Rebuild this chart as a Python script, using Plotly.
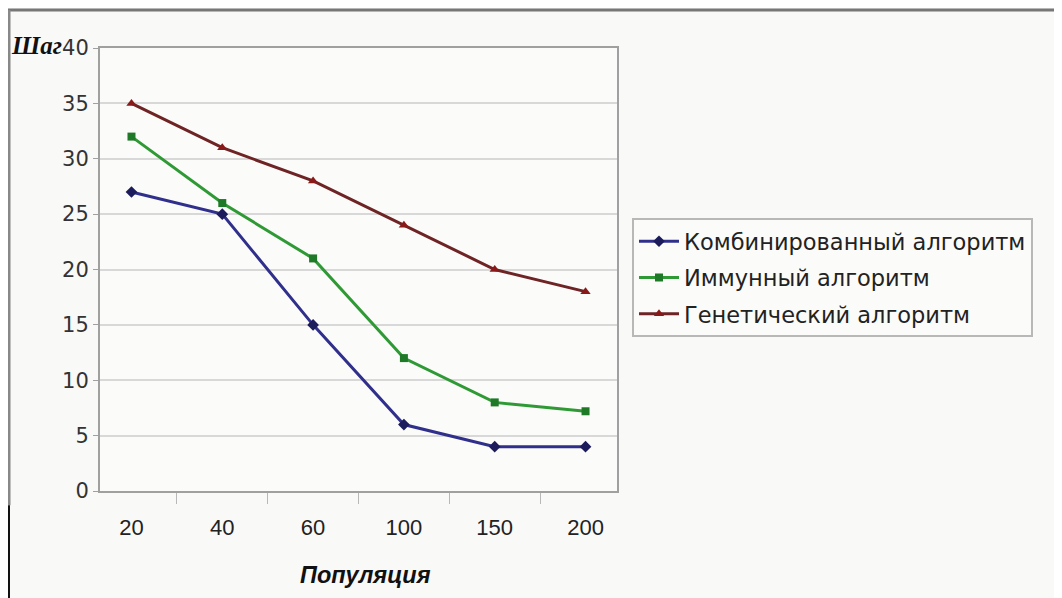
import plotly.graph_objects as go

categories = ["20", "40", "60", "100", "150", "200"]
combined = [27, 25, 15, 6, 4, 4]
immune = [32, 26, 21, 12, 8, 7.2]
genetic = [35, 31, 28, 24, 20, 18]
series_names = ["Комбинированный алгоритм", "Иммунный алгоритм", "Генетический алгоритм"]
y_ticks = [0, 5, 10, 15, 20, 25, 30, 35, 40]

SANS = "DejaVu Sans, sans-serif"
ARIAL = "Liberation Sans, Arial, sans-serif"

fig = go.Figure()
fig.add_trace(go.Scatter(
    x=categories, y=combined, name=series_names[0], mode="lines+markers",
    legendgroup="a",
    line=dict(color="#30308c", width=3),
    marker=dict(symbol="diamond", size=9, color="#1c1c5c"),
))
fig.add_trace(go.Scatter(
    x=categories, y=immune, name=series_names[1], mode="lines+markers",
    legendgroup="b",
    line=dict(color="#2f9a35", width=3),
    marker=dict(symbol="square", size=8, color="#1f7a28"),
))
fig.add_trace(go.Scatter(
    x=categories, y=genetic, name=series_names[2], mode="lines+markers",
    legendgroup="c",
    line=dict(color="#6e2424", width=3),
    marker=dict(symbol="triangle-up", size=9, color="#8a1a1a"),
))

fig.update_layout(
    width=1050, height=598,
    margin=dict(l=92, r=441, t=40, b=115),
    paper_bgcolor="#f9f9f7",
    plot_bgcolor="#fbfbf9",
    font=dict(family=SANS, size=20, color="#222222"),
    showlegend=True,
    legend=dict(
        x=1.029, y=0.616, xanchor="left", yanchor="top",
        bgcolor="#fbfbf9", bordercolor="#b8b8b8", borderwidth=2,
        font=dict(family=SANS, size=22.5, color="#222222"),
        itemwidth=40, tracegroupgap=4,
    ),
    xaxis=dict(
        type="category", showgrid=False,
        showline=True, linecolor="#a0a0a0", linewidth=2, mirror=True,
        ticks="outside", tickson="boundaries", ticklen=11, tickcolor="#b8b8b8",
        tickfont=dict(family=ARIAL, size=22, color="#222222"),
        ticklabelstandoff=16,
    ),
    yaxis=dict(
        range=[0, 40], tickvals=y_ticks,
        showgrid=True, gridcolor="#d8d8d8", gridwidth=1.5,
        showline=True, linecolor="#a0a0a0", linewidth=2, mirror=True,
        ticks="outside", ticklen=5, tickcolor="#a0a0a0",
        tickfont=dict(family=SANS, size=21, color="#333333"),
        zeroline=False,
    ),
)

fig.add_annotation(
    text="<b><i>Шаг</i></b>", xref="paper", yref="paper",
    x=-0.176, y=1.005, xanchor="left", yanchor="middle", showarrow=False,
    font=dict(family="Liberation Serif, serif", size=25, color="#111111"),
)
fig.add_annotation(
    text="<b><i>Популяция</i></b>", xref="paper", yref="paper",
    x=0.513, y=-0.19, xanchor="center", yanchor="middle", showarrow=False,
    font=dict(family=ARIAL, size=23.5, color="#111111"),
)

# outer frame lines
fig.add_shape(type="line", xref="paper", yref="paper",
              x0=-0.178, x1=1.86, y0=1.086, y1=1.086,
              line=dict(color="#777777", width=3))
fig.add_shape(type="line", xref="paper", yref="paper",
              x0=-0.176, x1=-0.176, y0=1.086, y1=-0.032,
              line=dict(color="#888888", width=3))
fig.add_shape(type="line", xref="paper", yref="paper",
              x0=-0.177, x1=-0.177, y0=-0.032, y1=-0.25,
              line=dict(color="#111111", width=3))

fig.write_html("out.html")
